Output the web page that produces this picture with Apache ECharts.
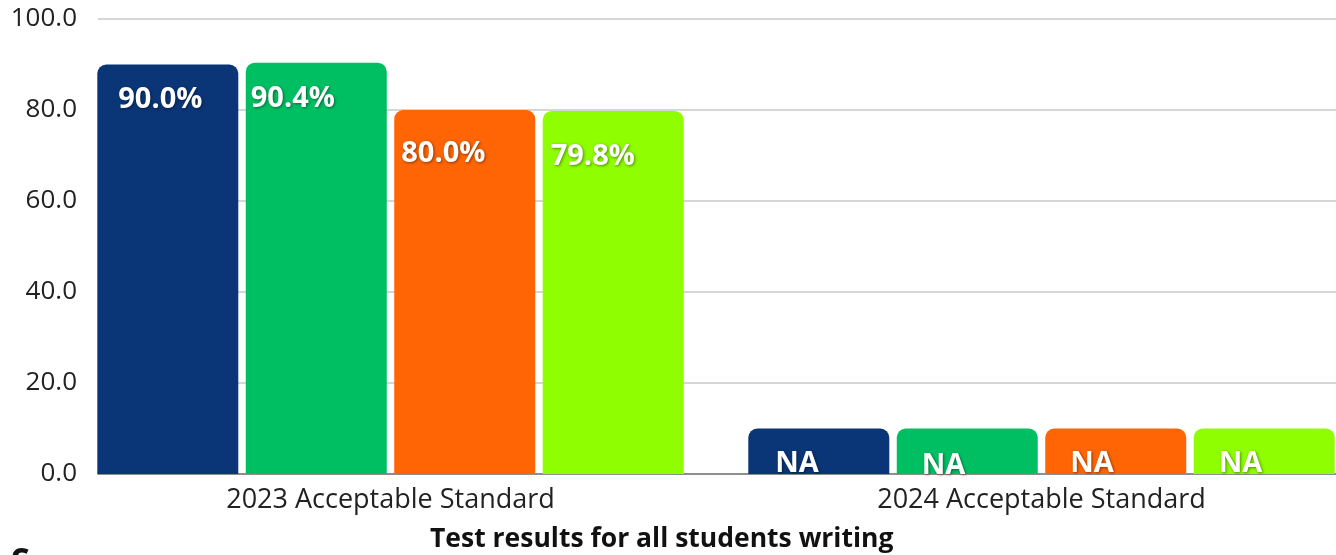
<!DOCTYPE html>
<html>
<head>
<meta charset="utf-8">
<script src="https://cdn.jsdelivr.net/npm/echarts@6/dist/echarts.min.js"></script>
<style>
  html, body { margin: 0; padding: 0; background: #fff; }
  #chart { width: 1336px; height: 555px; }
</style>
</head>
<body>
<div id="chart"></div>
<script>
// Writing test results, acceptable standard (%)
const categories = ['2023 Acceptable Standard', '2024 Acceptable Standard'];
const yTicks = [0, 20, 40, 60, 80, 100];

// 2024 results are not available: short placeholder bars labelled "NA"
const seriesA = [90.0, 10];
const seriesB = [90.4, 10];
const seriesC = [80.0, 10];
const seriesD = [79.8, 10];

const labelsA = ['90.0%', 'NA'];
const labelsB = ['90.4%', 'NA'];
const labelsC = ['80.0%', 'NA'];
const labelsD = ['79.8%', 'NA'];

const colors = ['#0a3678', '#00bf63', '#ff6505', '#8efe00'];

// per-bar label nudges inside the bar [dx, dy]
const labelOffsets = [
  [[21, 21], [27, 21]],
  [[5, 22], [25, 23]],
  [[7, 29], [25, 21]],
  [[8, 31], [25, 21]]
];

const FONT = '"Open Sans", "Noto Sans", sans-serif';

function makeSeries(name, values, labels, color, offsets) {
  return {
    name: name,
    type: 'bar',
    xAxisIndex: 1,
    yAxisIndex: 1,
    barWidth: 141,
    barGap: '5.3%',
    itemStyle: { color: color, borderRadius: [9, 9, 0, 0] },
    data: values.map((v, i) => ({
      value: v,
      label: { offset: offsets[i], formatter: labels[i] }
    })),
    label: {
      show: true,
      position: 'insideTopLeft',
      distance: 0,
      color: '#fff',
      fontFamily: FONT,
      fontWeight: 'bold',
      fontSize: 29,
      textShadowColor: 'rgba(0,0,0,0.45)',
      textShadowBlur: 3,
      textShadowOffsetX: 1,
      textShadowOffsetY: 1
    }
  };
}

const chart = echarts.init(document.getElementById('chart'), null, { renderer: 'canvas' });

chart.setOption({
  animation: false,
  backgroundColor: '#fff',
  title: [
    {
      text: 'Test results for all students writing',
      left: 425,
      top: 521,
      textStyle: { fontFamily: FONT, fontWeight: 'bold', fontSize: 26.5, color: '#111' }
    },
    {
      text: 'S',
      left: 4,
      top: 541,
      textStyle: { fontFamily: FONT, fontWeight: 'bold', fontStyle: 'italic', fontSize: 36, color: '#111' }
    }
  ],
  grid: [
    // value axis, gridlines and baseline
    { left: 98, right: -40, top: 19, bottom: 81, outerBoundsMode: 'none', containLabel: false },
    // bars and category labels
    { left: 65, width: 1302, top: 19, bottom: 81, outerBoundsMode: 'none', containLabel: false }
  ],
  xAxis: [
    {
      gridIndex: 0,
      type: 'category',
      data: categories,
      axisLine: { show: true, lineStyle: { color: '#777', width: 1.5 } },
      axisTick: { show: false },
      axisLabel: { show: false }
    },
    {
      gridIndex: 1,
      type: 'category',
      data: categories,
      axisLine: { show: false },
      axisTick: { show: false },
      axisLabel: {
        color: '#222',
        fontFamily: FONT,
        fontSize: 27,
        margin: 13
      }
    }
  ],
  yAxis: [
    {
      gridIndex: 0,
      type: 'value',
      min: yTicks[0],
      max: yTicks[yTicks.length - 1],
      interval: yTicks[1] - yTicks[0],
      axisLine: { show: false },
      axisTick: { show: false },
      splitLine: { lineStyle: { color: '#c8c8c8', width: 1.5 } },
      axisLabel: {
        color: '#222',
        fontFamily: FONT,
        fontSize: 26,
        margin: 21,
        formatter: v => v.toFixed(1)
      }
    },
    {
      gridIndex: 1,
      type: 'value',
      min: yTicks[0],
      max: yTicks[yTicks.length - 1],
      show: false,
      splitLine: { show: false }
    }
  ],
  series: [
    makeSeries('A', seriesA, labelsA, colors[0], labelOffsets[0]),
    makeSeries('B', seriesB, labelsB, colors[1], labelOffsets[1]),
    makeSeries('C', seriesC, labelsC, colors[2], labelOffsets[2]),
    makeSeries('D', seriesD, labelsD, colors[3], labelOffsets[3])
  ]
});
</script>
</body>
</html>
